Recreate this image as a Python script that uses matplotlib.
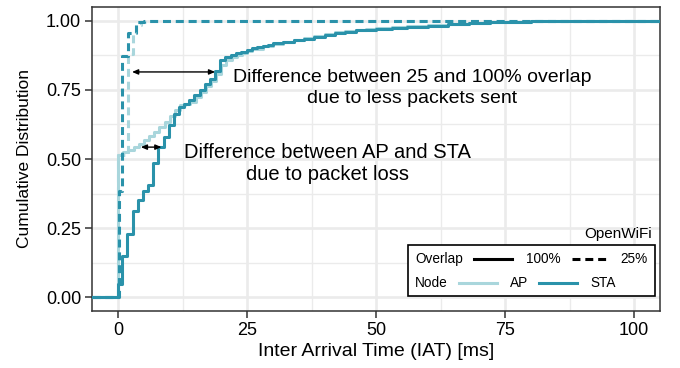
import numpy as np
import matplotlib.pyplot as plt
from matplotlib.lines import Line2D
from matplotlib.patches import Rectangle

plt.rcParams['font.family'] = ['Liberation Sans', 'DejaVu Sans']

# CDF step data (IAT in ms)
sta_100_x = [-5, 0, 0.8, 1.8, 2.8, 3.8, 4.8, 5.8, 6.8, 7.8, 8.8, 9.8, 10.8, 11.8, 12.8,
             13.8, 14.8, 15.8, 16.8, 17.8, 18.8, 19.8, 20.8, 21.8, 22.8, 23.8, 25, 26,
             27, 28, 29, 30, 32, 34, 36, 38, 40, 42, 44, 46, 48, 50, 53, 56, 60, 64,
             68, 72, 76, 80, 85, 90, 105]
sta_100_y = [0, 0.049, 0.148, 0.229, 0.313, 0.353, 0.383, 0.407, 0.485, 0.544, 0.58,
             0.622, 0.664, 0.688, 0.70, 0.712, 0.73, 0.748, 0.773, 0.79, 0.82, 0.857,
             0.869, 0.875, 0.882, 0.888, 0.893, 0.90, 0.905, 0.91, 0.914, 0.918, 0.924,
             0.93, 0.935, 0.942, 0.95, 0.956, 0.961, 0.965, 0.968, 0.971, 0.975, 0.979,
             0.983, 0.987, 0.991, 0.994, 0.996, 0.998, 0.999, 1.0, 1.0]

ap_100_x = [-5, 0, 1, 2, 3, 4, 5, 6, 7, 8, 9, 10, 11, 12, 13, 14, 15, 16, 17, 18, 19,
            20, 21, 22, 23, 24, 25, 26, 28, 30, 32, 34, 36, 38, 40, 42, 44, 46, 48, 50,
            53, 56, 60, 64, 68, 72, 76, 80, 85, 90, 105]
ap_100_y = [0, 0.514, 0.526, 0.534, 0.544, 0.556, 0.570, 0.582, 0.598, 0.614, 0.634,
            0.655, 0.677, 0.695, 0.70, 0.708, 0.725, 0.742, 0.765, 0.782, 0.808, 0.84,
            0.857, 0.868, 0.877, 0.885, 0.892, 0.899, 0.909, 0.917, 0.924, 0.931,
            0.937, 0.945, 0.953, 0.959, 0.964, 0.968, 0.971, 0.973, 0.977, 0.980,
            0.984, 0.988, 0.991, 0.994, 0.996, 0.998, 0.999, 1.0, 1.0]

sta_25_x = [-5, 0.1, 0.8, 1.9, 3.5, 5, 105]
sta_25_y = [0, 0.383, 0.873, 0.955, 0.995, 1.0, 1.0]

ap_25_x = [-5, 0, 1.9, 2.9, 3.5, 4.5, 6, 105]
ap_25_y = [0, 0.514, 0.881, 0.959, 0.985, 0.997, 1.0, 1.0]

x_ticks = [0, 25, 50, 75, 100]
y_ticks = [0, 0.25, 0.5, 0.75, 1.0]
y_labels = ['0.00', '0.25', '0.50', '0.75', '1.00']

c_sta = '#2a92aa'
c_ap = '#a9d6dc'
lw = 2.2
dash = (0, (2.6, 1.6))

fig = plt.figure(figsize=(6.8, 3.68), dpi=100)
ax = fig.add_axes([92.3 / 680, 1 - 311 / 368, (660 - 92.3) / 680, (311 - 7) / 368])

ax.step(ap_100_x, ap_100_y, where='post', color=c_ap, lw=lw, zorder=3)
ax.step(ap_25_x, ap_25_y, where='post', color=c_ap, lw=lw, ls=dash, zorder=3)
ax.step(sta_100_x, sta_100_y, where='post', color=c_sta, lw=lw, zorder=4)
ax.step(sta_25_x, sta_25_y, where='post', color=c_sta, lw=lw, ls=dash, zorder=4)

ax.set_xlim(-5, 105)
ax.set_ylim(-0.05, 1.05)
ax.set_xticks(x_ticks)
ax.set_yticks(y_ticks)
ax.set_yticklabels(y_labels)
ax.set_xticks([12.5, 37.5, 62.5, 87.5], minor=True)
ax.set_yticks([0.125, 0.375, 0.625, 0.875], minor=True)
ax.tick_params(which='minor', length=0)
ax.tick_params(which='major', length=5, width=1.1, color='#333333',
               labelsize=13, labelcolor='black', pad=3)
ax.grid(which='major', color='#ebebeb', lw=1.9, zorder=0)
ax.grid(which='minor', color='#ebebeb', lw=1.0, zorder=0)
ax.set_axisbelow(True)
for s in ax.spines.values():
    s.set_color('#333333')
    s.set_linewidth(1.1)

ax.set_xlabel('Inter Arrival Time (IAT) [ms]', fontsize=14, labelpad=3)
ax.set_ylabel('Cumulative Distribution', fontsize=12.5, labelpad=10)

# annotations
arr = dict(arrowstyle='<|-|>,head_length=0.35,head_width=0.15', color='black',
           lw=1.0, shrinkA=0, shrinkB=0)
ax.annotate('', xy=(2.7, 0.815), xytext=(18.8, 0.815), arrowprops=arr, zorder=6)
ax.annotate('', xy=(4.4, 0.543), xytext=(8.4, 0.543), arrowprops=arr, zorder=6)
ax.text(57.0, 0.756, 'Difference between 25 and 100% overlap\ndue to less packets sent',
        ha='center', va='center', multialignment='center', fontsize=14, linespacing=1.3)
ax.text(40.6, 0.483, 'Difference between AP and STA\ndue to packet loss',
        ha='center', va='center', multialignment='center', fontsize=14.5, linespacing=1.2)


# legend drawn in pixel positions of the figure
def fx(px):
    return px / 680


def fy(py):
    return 1 - py / 368


fig.patches.append(Rectangle((fx(408.3), fy(296)), fx(655) - fx(408.3), fy(245) - fy(296),
                             transform=fig.transFigure, fill=True, facecolor='white',
                             edgecolor='black', lw=1.2, zorder=10))
fig.text(fx(652), fy(234), 'OpenWiFi', ha='right', va='center', fontsize=11)
r1, r2 = fy(259.3), fy(283.3)
fig.text(fx(415), r1, 'Overlap', ha='left', va='center', fontsize=9.8, zorder=11)
fig.text(fx(415), r2, 'Node', ha='left', va='center', fontsize=9.8, zorder=11)
fig.lines.append(Line2D([fx(474), fx(511.7)], [r1, r1], transform=fig.transFigure,
                        color='black', lw=lw, zorder=11))
fig.text(fx(526), r1, '100%', ha='left', va='center', fontsize=9.8, zorder=11)
fig.lines.append(Line2D([fx(571.7), fx(610)], [r1, r1], transform=fig.transFigure,
                        color='black', lw=lw, ls=dash, zorder=11))
fig.text(fx(620), r1, '25%', ha='left', va='center', fontsize=9.8, zorder=11)
fig.lines.append(Line2D([fx(459.3), fx(497.3)], [r2, r2], transform=fig.transFigure,
                        color=c_ap, lw=lw, zorder=11))
fig.text(fx(510), r2, 'AP', ha='left', va='center', fontsize=9.8, zorder=11)
fig.lines.append(Line2D([fx(539.3), fx(577.3)], [r2, r2], transform=fig.transFigure,
                        color=c_sta, lw=lw, zorder=11))
fig.text(fx(590), r2, 'STA', ha='left', va='center', fontsize=9.8, zorder=11)

fig.savefig('out.png', dpi=100)
